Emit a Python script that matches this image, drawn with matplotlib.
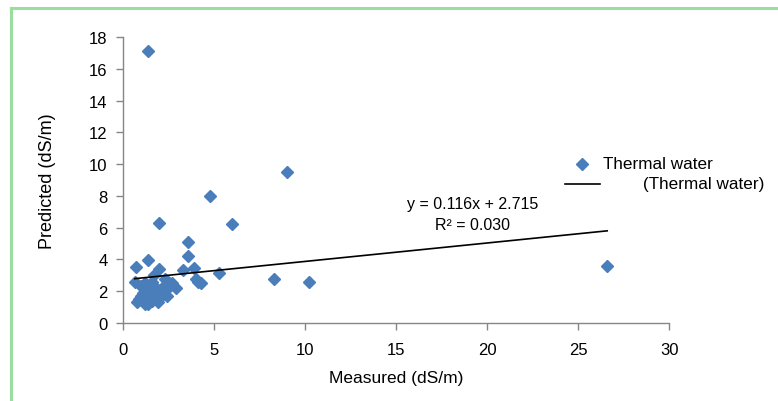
import matplotlib
matplotlib.use("Agg")
import matplotlib.pyplot as plt
from matplotlib.lines import Line2D
import numpy as np

plt.rcParams['font.family'] = ['Liberation Sans', 'DejaVu Sans']

measured = [1.4, 9.0, 4.8, 2.0, 6.0, 3.6, 3.6, 1.4, 0.7, 3.9, 3.3, 5.3, 8.3, 10.2, 26.6,
            0.65, 4.1, 4.3, 2.9, 4.0, 2.0, 1.7, 2.3, 2.5,
            0.8, 0.9, 1.0, 1.2, 1.3, 1.1, 1.4, 1.5, 1.6, 1.7, 1.8, 2.0, 2.1, 2.2, 2.4,
            2.5, 2.7, 1.9, 1.2, 1.0, 2.3, 1.6, 1.4]
predicted = [17.1, 9.5, 8.0, 6.3, 6.2, 5.1, 4.2, 3.95, 3.5, 3.45, 3.35, 3.15, 2.8, 2.6, 3.6,
             2.6, 2.6, 2.5, 2.2, 2.8, 3.4, 3.0, 2.8, 2.6,
             1.3, 1.5, 1.7, 1.2, 1.4, 1.9, 2.1, 1.6, 1.4, 1.9, 2.2, 1.6, 2.0, 1.8, 1.7,
             2.2, 2.5, 1.3, 2.5, 2.3, 2.4, 2.6, 1.2]
slope = 0.116
intercept = 2.715
x_ticks = [0, 5, 10, 15, 20, 25, 30]
y_ticks = [0, 2, 4, 6, 8, 10, 12, 14, 16, 18]

blue = '#4A7EBB'
gray = '#868686'

fig = plt.figure(figsize=(7.78, 4.02), dpi=100)
ax = fig.add_axes([0.158, 0.194, 0.702, 0.7115])

ax.plot(measured, predicted, linestyle='none', marker='D', markersize=6.6,
        color=blue, markeredgecolor=blue, zorder=3)
xl = np.array([min(measured), max(measured)])
ax.plot(xl, slope * xl + intercept, color='black', linewidth=1.2, zorder=4)

ax.set_xlim(0, 30)
ax.set_ylim(0, 18)
ax.set_xticks(x_ticks)
ax.set_yticks(y_ticks)
for s in ['top', 'right']:
    ax.spines[s].set_visible(False)
for s in ['left', 'bottom']:
    ax.spines[s].set_color(gray)
    ax.spines[s].set_linewidth(1.0)
ax.tick_params(direction='out', length=5, color=gray, labelsize=12, width=1.0)
ax.tick_params(axis='x', pad=9)
ax.tick_params(axis='y', pad=6)
ax.set_xlabel('Measured (dS/m)', fontsize=12.5, labelpad=9)
ax.set_ylabel('Predicted (dS/m)', fontsize=13, labelpad=24)

ax.text(19.2, 6.85, 'y = 0.116x + 2.715\nR² = 0.030', ha='center', va='center',
        fontsize=11.5, linespacing=1.5)

# legend
fig.add_artist(Line2D([582/778], [1 - 165/402], marker='D', markersize=6.6,
                      color=blue, linestyle='none', transform=fig.transFigure))
fig.text(603/778, 1 - 165/402, 'Thermal water', fontsize=12.3, va='center', ha='left')
fig.add_artist(Line2D([565/778, 600/778], [1 - 185/402, 1 - 185/402], color='black',
                      linewidth=1.2, transform=fig.transFigure))
fig.text(643/778, 1 - 185/402, '(Thermal water)', fontsize=12.3, va='center', ha='left')

# green frame (left and top edges)
green = '#9ADE9F'
fig.add_artist(Line2D([11/778, 11/778], [0, 1 - 9/402], color=green, linewidth=2.2,
                      transform=fig.transFigure))
fig.add_artist(Line2D([11/778, 1], [1 - 9/402, 1 - 9/402], color=green, linewidth=2.2,
                      transform=fig.transFigure))

fig.savefig('out.png', dpi=100)
